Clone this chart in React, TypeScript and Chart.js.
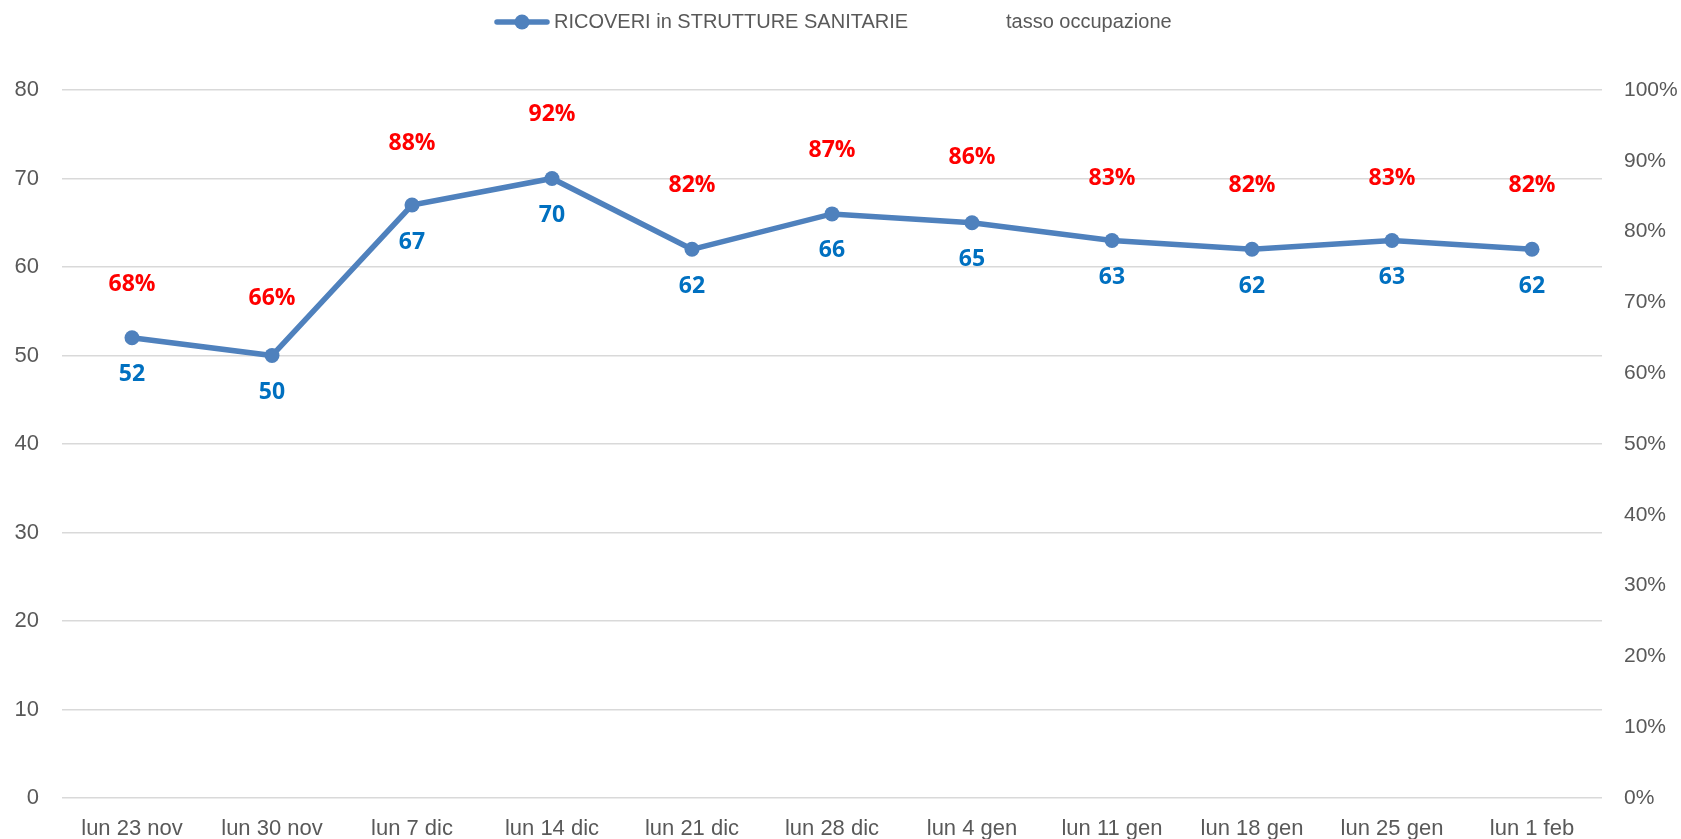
import React, { useEffect, useRef } from "react";
import { Chart, registerables } from "chart.js";

Chart.register(...registerables);

const categories = [
  "lun 23 nov", "lun 30 nov", "lun 7 dic", "lun 14 dic", "lun 21 dic", "lun 28 dic",
  "lun 4 gen", "lun 11 gen", "lun 18 gen", "lun 25 gen", "lun 1 feb",
];
const ricoveri = [52, 50, 67, 70, 62, 66, 65, 63, 62, 63, 62];
const tassoOccupazione = [0.68, 0.66, 0.88, 0.92, 0.82, 0.87, 0.86, 0.83, 0.82, 0.83, 0.82];
const seriesNames = ["RICOVERI in STRUTTURE SANITARIE", "tasso occupazione"];

const LINE_COLOR = "#4F81BD";
const TEXT_COLOR = "#595959";
const GRID_COLOR = "#D9D9D9";
const FONT = "'Liberation Sans', Arial, sans-serif";
const LABEL_FONT = "bold 23px 'Open Sans', 'Liberation Sans', sans-serif";

const labelPlugin = {
  id: "valueLabels",
  afterDatasetsDraw(chart: any) {
    const ctx = chart.ctx;
    ctx.save();
    ctx.font = LABEL_FONT;
    ctx.textAlign = "center";
    ctx.textBaseline = "middle";
    const m0 = chart.getDatasetMeta(0);
    m0.data.forEach((pt: any, i: number) => {
      ctx.fillStyle = "#0070C0";
      ctx.fillText(String(ricoveri[i]), pt.x, pt.y + 37);
    });
    const m1 = chart.getDatasetMeta(1);
    m1.data.forEach((pt: any, i: number) => {
      ctx.fillStyle = "#FF0000";
      ctx.fillText(Math.round(tassoOccupazione[i] * 100) + "%", pt.x, pt.y - 32);
    });
    ctx.restore();
  },
};

const legendPlugin = {
  id: "customLegend",
  afterDraw(chart: any) {
    const ctx = chart.ctx;
    const y = 22;
    ctx.save();
    ctx.strokeStyle = LINE_COLOR;
    ctx.lineWidth = 5.5;
    ctx.lineCap = "round";
    ctx.beginPath();
    ctx.moveTo(497, y);
    ctx.lineTo(547, y);
    ctx.stroke();
    ctx.fillStyle = LINE_COLOR;
    ctx.beginPath();
    ctx.arc(522, y, 7.5, 0, Math.PI * 2);
    ctx.fill();
    ctx.font = "20px " + FONT;
    ctx.fillStyle = TEXT_COLOR;
    ctx.textAlign = "left";
    ctx.textBaseline = "middle";
    ctx.fillText(chart.data.datasets[0].label, 554, y);
    ctx.fillText(chart.data.datasets[1].label, 1006, y);
    ctx.restore();
  },
};

export default function App() {
  const ref = useRef<HTMLCanvasElement>(null);
  useEffect(() => {
    document.body.style.margin = "0";
    const chart = new Chart(ref.current as HTMLCanvasElement, {
      type: "line",
      data: {
        labels: categories,
        datasets: [
          {
            label: seriesNames[0],
            data: ricoveri,
            borderColor: LINE_COLOR,
            backgroundColor: LINE_COLOR,
            borderWidth: 5.5,
            pointRadius: 7.5,
            pointBackgroundColor: LINE_COLOR,
            pointBorderWidth: 0,
            tension: 0,
            yAxisID: "y",
          },
          {
            label: seriesNames[1],
            data: tassoOccupazione,
            showLine: false,
            pointRadius: 0,
            borderColor: "rgba(0,0,0,0)",
            backgroundColor: "rgba(0,0,0,0)",
            yAxisID: "y1",
          },
        ],
      },
      options: {
        animation: false,
        responsive: true,
        maintainAspectRatio: false,
        layout: { padding: { top: 90, left: 0, right: 0, bottom: 0 } },
        plugins: { legend: { display: false }, tooltip: { enabled: false } },
        scales: {
          x: {
            offset: true,
            grid: { display: false, drawTicks: false },
            border: { display: false },
            ticks: { color: TEXT_COLOR, font: { size: 22, family: FONT }, padding: 18, maxRotation: 0, autoSkip: false },
            afterFit: (s: any) => { s.height = 41; },
          },
          y: {
            position: "left",
            min: 0,
            max: 80,
            ticks: { stepSize: 10, color: TEXT_COLOR, font: { size: 22, family: FONT }, padding: 23 },
            grid: { color: GRID_COLOR, lineWidth: 1.5, drawTicks: false },
            border: { display: false },
            afterFit: (s: any) => { s.width = 62; },
          },
          y1: {
            position: "right",
            min: 0,
            max: 1,
            ticks: {
              stepSize: 0.1,
              color: TEXT_COLOR,
              font: { size: 21, family: FONT },
              padding: 22,
              callback: (v: any) => Math.round(Number(v) * 100) + "%",
            },
            grid: { drawOnChartArea: false, drawTicks: false },
            border: { display: false },
            afterFit: (s: any) => { s.width = 79; },
          },
        },
      },
      plugins: [labelPlugin, legendPlugin],
    });
    return () => chart.destroy();
  }, []);
  return (
    <div style={{ position: "fixed", left: 0, top: 0, width: "1681px", height: "839px", background: "#fff" }}>
      <canvas ref={ref} />
    </div>
  );
}
